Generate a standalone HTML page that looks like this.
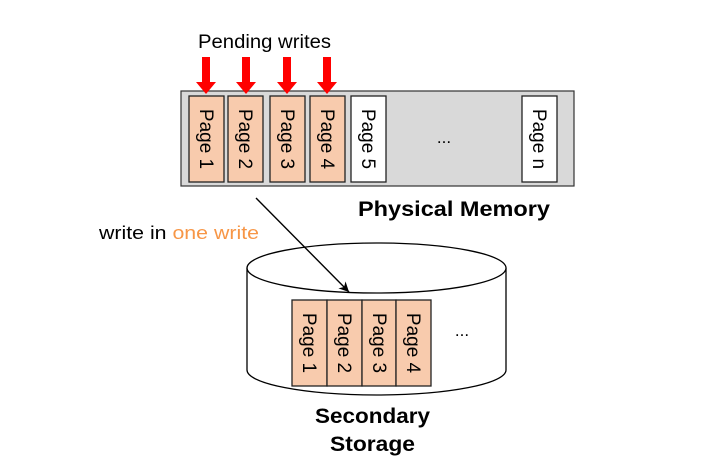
<!DOCTYPE html>
<html><head><style>body{margin:0;background:#fff}svg{display:block}</style></head><body>
<svg width="712" height="468" viewBox="0 0 712 468" xmlns="http://www.w3.org/2000/svg" font-family="'Liberation Sans', 'DejaVu Sans', sans-serif">
<defs><marker id="ah" markerWidth="12" markerHeight="12" refX="10" refY="5" orient="auto" markerUnits="userSpaceOnUse"><path d="M0,0 L10,5 L0,10 L3,5 Z" fill="#000"/></marker></defs>
<text x="198" y="48" font-size="19" textLength="133" lengthAdjust="spacingAndGlyphs" fill="#000">Pending writes</text>
<rect x="181" y="91" width="393" height="95" fill="#d9d9d9" stroke="#333" stroke-width="1.2"/>
<g stroke="#222" stroke-width="1.3">
<rect x="189" y="96" width="35" height="86" fill="#f8cbad"/>
<rect x="228" y="96" width="35" height="86" fill="#f8cbad"/>
<rect x="270" y="96" width="35" height="86" fill="#f8cbad"/>
<rect x="310" y="96" width="35" height="86" fill="#f8cbad"/>
<rect x="351" y="96" width="35" height="86" fill="#fff"/>
<rect x="522" y="96" width="35" height="86" fill="#fff"/>
</g>
<g font-size="19" fill="#000">
<text transform="translate(200,139) rotate(90)" text-anchor="middle">Page 1</text>
<text transform="translate(239,139) rotate(90)" text-anchor="middle">Page 2</text>
<text transform="translate(281,139) rotate(90)" text-anchor="middle">Page 3</text>
<text transform="translate(321,139) rotate(90)" text-anchor="middle">Page 4</text>
<text transform="translate(362,139) rotate(90)" text-anchor="middle">Page 5</text>
<text transform="translate(533,139) rotate(90)" text-anchor="middle">Page n</text>
</g>
<text x="444" y="143" font-size="17" text-anchor="middle">...</text>
<g fill="#f00">
<path d="M202,57 h8 v25 h6 l-10,12 l-10,-12 h6 Z"/>
<path d="M242,57 h8 v25 h6 l-10,12 l-10,-12 h6 Z"/>
<path d="M283,57 h8 v25 h6 l-10,12 l-10,-12 h6 Z"/>
<path d="M323,57 h8 v25 h6 l-10,12 l-10,-12 h6 Z"/>
</g>
<text x="358" y="216" font-size="21" font-weight="bold" textLength="192" lengthAdjust="spacingAndGlyphs">Physical Memory</text>
<text x="99" y="239" font-size="18" textLength="160" lengthAdjust="spacingAndGlyphs"><tspan fill="#000">write in </tspan><tspan fill="#f79646">one write</tspan></text>
<path d="M247,268 L247,370 A129.5,25 0 0 0 506,370 L506,268" fill="#fff" stroke="#000" stroke-width="1.3"/>
<ellipse cx="376.5" cy="268" rx="129.5" ry="25" fill="#fff" stroke="#000" stroke-width="1.3"/>
<line x1="256" y1="198" x2="349" y2="292" stroke="#000" stroke-width="1.4" marker-end="url(#ah)"/>
<g stroke="#222" stroke-width="1.3" fill="#f8cbad">
<rect x="292" y="300" width="35" height="86"/>
<rect x="327" y="300" width="35" height="86"/>
<rect x="362" y="300" width="34" height="86"/>
<rect x="396" y="300" width="35" height="86"/>
</g>
<g font-size="19" fill="#000">
<text transform="translate(303,343) rotate(90)" text-anchor="middle">Page 1</text>
<text transform="translate(338,343) rotate(90)" text-anchor="middle">Page 2</text>
<text transform="translate(373,343) rotate(90)" text-anchor="middle">Page 3</text>
<text transform="translate(407,343) rotate(90)" text-anchor="middle">Page 4</text>
</g>
<text x="462" y="336" font-size="17" text-anchor="middle">...</text>
<text x="315" y="423" font-size="21" font-weight="bold" textLength="115" lengthAdjust="spacingAndGlyphs">Secondary</text>
<text x="330" y="451" font-size="21" font-weight="bold" textLength="85" lengthAdjust="spacingAndGlyphs">Storage</text>
</svg>
</body></html>
